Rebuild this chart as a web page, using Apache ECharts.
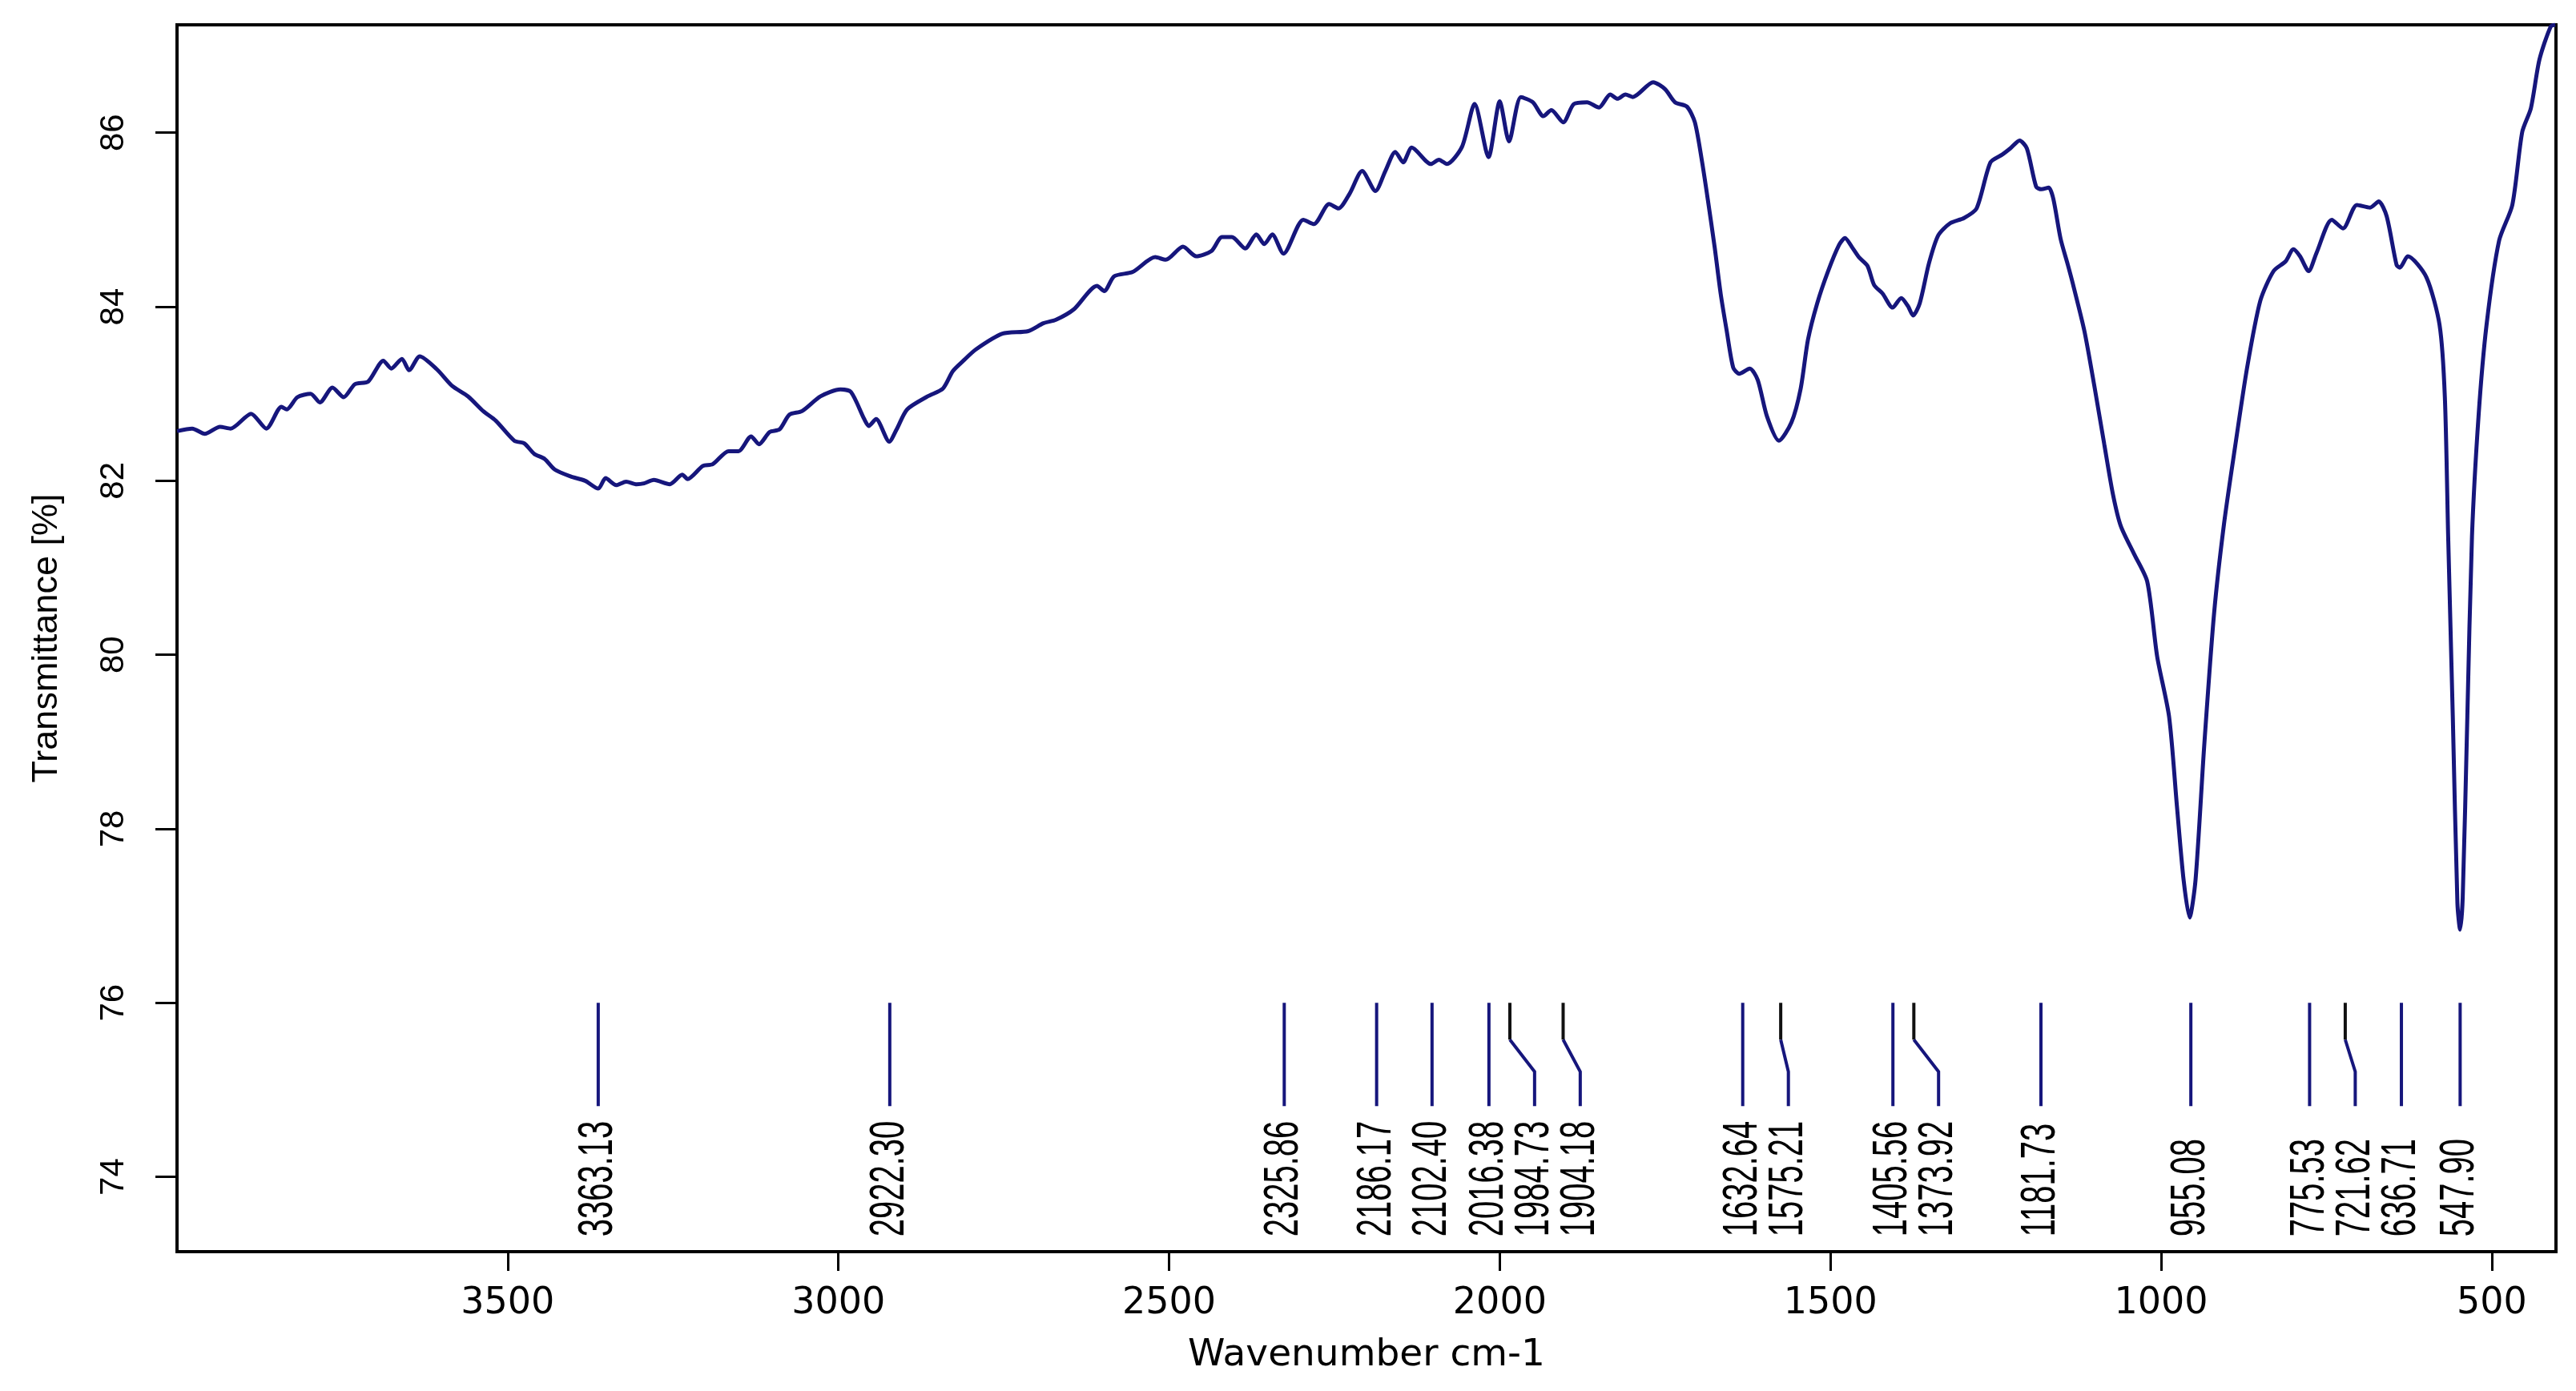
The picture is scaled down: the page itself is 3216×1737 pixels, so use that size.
<!DOCTYPE html>
<html>
<head>
<meta charset="utf-8">
<script src="https://cdn.jsdelivr.net/npm/echarts@6/dist/echarts.min.js"></script>
<style>
html,body{margin:0;padding:0;background:#fff;}
#chart{width:3216px;height:1737px;}
</style>
</head>
<body>
<div id="chart"></div>
<script>
// Wavenumber (cm-1) and transmittance (%)
const wavenumbers = [
4000,3977,3958,3935,3919,3888,3865,3842,3834,3818,3798,3784,3765,3748,3731,3711,3688,3676,3660,3649,3633,3607,3584,3560,3537,3518,3490,3475,3460,3444,3429,3405,3383,3363,3352,3336,3321,3305,3294,3279,3255,3236,3228,3205,3190,3166,3151,3132,3120,3104,3089,3074,3055,3027,2997,2981,2961,2954,2943,2923,2912,2896,2865,2842,2827,2811,2792,
2752,2713,2690,2671,2644,2609,2598,2583,2555,2521,2505,2479,2459,2436,2420,2405,2385,2368,2356,2344,2327,2297,2281,2258,2244,2227,2208,2188,2173,2158,2146,2133,2104,2092,2080,2057,2038,2017,2000,1986,1968,1950,1934,1922,1904,1888,1868,1850,1833,1822,1810,1799,1768,1750,1735,1717,1705,1694,1685,1675,1666,1657,1647,1638,1622,1610,1596,1578,1559,1545,1534,1520,1504,1487,1478,1467,1457,1444,1434,1421,1406,1393,1383,1375,1365,1351,1337,1319,1298,1279,1258,1240,1228,1214,1203,1189,1181,1170,1163,1152,1141,1133,1116,1101,1086,1073,1061,1041,1021,1006,988,976,966,957,948,935,920,905,888,870,850,830,812,800,790,777,765,742,725,704,684,671,659,644,639,627,599,579,571,566,559,552,548,544,537,530,520,508,489,469,454,441,428,411,404
];
const transmittance = [
82.57,82.60,82.54,82.62,82.60,82.77,82.60,82.85,82.82,82.96,83.00,82.90,83.07,82.96,83.11,83.14,83.38,83.29,83.40,83.27,83.43,83.28,83.09,82.97,82.80,82.69,82.46,82.43,82.31,82.25,82.13,82.05,82.00,81.91,82.03,81.95,81.99,81.96,81.97,82.01,81.96,82.07,82.02,82.17,82.19,82.34,82.34,82.51,82.42,82.56,82.59,82.76,82.80,82.97,83.05,83.02,82.71,82.63,82.71,82.45,82.59,82.82,82.97,83.06,83.26,83.38,83.51,
83.69,83.72,83.81,83.85,83.97,84.24,84.18,84.35,84.40,84.57,84.54,84.69,84.58,84.64,84.80,84.80,84.67,84.83,84.72,84.83,84.61,85.00,84.95,85.18,85.13,85.30,85.56,85.33,85.56,85.78,85.66,85.83,85.64,85.69,85.64,85.84,86.33,85.72,86.36,85.90,86.41,86.35,86.19,86.26,86.12,86.33,86.35,86.29,86.44,86.39,86.44,86.41,86.58,86.50,86.35,86.30,86.12,85.66,85.21,84.68,84.15,83.73,83.30,83.23,83.29,83.16,82.74,82.46,82.67,83.06,83.62,84.04,84.40,84.71,84.79,84.68,84.57,84.47,84.25,84.15,83.99,84.10,84.01,83.90,84.04,84.50,84.82,84.96,85.02,85.13,85.66,85.75,85.82,85.91,85.82,85.38,85.35,85.37,85.24,84.78,84.48,84.25,83.72,83.09,82.42,81.85,81.48,81.16,80.84,79.98,79.29,78.25,77.41,76.98,77.41,78.94,80.47,81.50,82.40,83.30,84.07,84.41,84.52,84.66,84.58,84.41,84.62,85.00,84.90,85.17,85.14,85.21,85.04,84.48,84.45,84.58,84.34,83.79,82.96,81.36,79.29,77.14,76.84,77.21,79.29,81.36,82.75,83.79,84.76,85.17,86.01,86.28,86.84,87.22,87.24
];
// Annotated peak positions (cm-1)
const peaks = [3363.13,2922.30,2325.86,2186.17,2102.40,2016.38,1984.73,1904.18,1632.64,1575.21,1405.56,1373.92,1181.73,955.08,775.53,721.62,636.71,547.90];
// Axis tick values
const xTicks = [3500,3000,2500,2000,1500,1000,500];
const yTicks = [74,76,78,80,82,84,86];

const PEAK_TOP = 76;       // level where annotation lines start
const MIN_GAP = 57;        // min pixel spacing between peak labels
const NAVY = '#16167c';

const chart = echarts.init(document.getElementById('chart'), null, {renderer:'canvas'});

function renderPeak(params, api) {
  const idx = params.dataIndex;
  const px = peaks.map(p => api.coord([p, PEAK_TOP])[0]);
  const sx = [];
  for (let i = 0; i < px.length; i++) {
    sx[i] = i === 0 ? px[i] : Math.max(px[i], sx[i - 1] + MIN_GAP);
  }
  const top = api.coord([peaks[idx], PEAK_TOP])[1];
  const x0 = px[idx], x1 = sx[idx];
  const shifted = Math.abs(x1 - x0) > 1;
  const children = [];
  if (shifted) {
    children.push({type:'polyline', shape:{points:[[x0, top],[x0, top+46]]}, style:{stroke:'#111', lineWidth:4, fill:null}});
    children.push({type:'polyline', shape:{points:[[x0, top+46],[x1, top+86],[x1, top+129]]}, style:{stroke:NAVY, lineWidth:4, fill:null}});
  } else {
    children.push({type:'polyline', shape:{points:[[x0, top],[x0, top+129]]}, style:{stroke:NAVY, lineWidth:4, fill:null}});
  }
  children.push({
    type:'text',
    x: x1, y: top + 292,
    rotation: Math.PI / 2,
    scaleX: 1, scaleY: 1.55,
    style:{
      text: peaks[idx].toFixed(2),
      fill:'#000',
      font: '40px "Liberation Sans", Arial, sans-serif',
      textAlign:'left',
      textVerticalAlign:'middle'
    }
  });
  return {type:'group', children};
}

const option = {
  backgroundColor:'#fff',
  animation:false,
  grid:{left:221, right:25, top:31, bottom:174, show:true, borderColor:'#000', borderWidth:4, backgroundColor:'transparent'},
  xAxis:{
    type:'value', min:403, max:4000, inverse:true,
    name:'Wavenumber cm-1', nameLocation:'middle', nameGap:106,
    nameTextStyle:{fontFamily:'DejaVu Sans', fontSize:47, color:'#000'},
    axisLine:{show:true, lineStyle:{color:'#000', width:4}},
    axisTick:{show:true, length:24, lineStyle:{color:'#000', width:3}, customValues:xTicks},
    axisLabel:{fontFamily:'DejaVu Sans', fontSize:46, color:'#000', margin:42, customValues:xTicks, formatter:v => String(v)},
    splitLine:{show:false}
  },
  yAxis:{
    type:'value', min:73.14, max:87.24,
    name:'Transmittance [%]', nameLocation:'middle', nameGap:140, nameRotate:90,
    nameTextStyle:{fontFamily:'Liberation Sans', fontSize:45, color:'#000'},
    axisLine:{show:true, lineStyle:{color:'#000', width:4}},
    axisTick:{show:true, length:27, lineStyle:{color:'#000', width:3}, customValues:yTicks},
    axisLabel:{fontFamily:'Liberation Sans', fontSize:42, color:'#000', rotate:90, margin:58, customValues:yTicks, formatter:v => String(v)},
    splitLine:{show:false}
  },
  series:[
    {
      type:'line',
      data: wavenumbers.map((w, i) => [w, transmittance[i]]),
      showSymbol:false,
      smooth:0.25,
      lineStyle:{color:NAVY, width:5},
      clip:true,
      silent:true
    },
    {
      type:'custom',
      data: peaks.map(p => [p, PEAK_TOP]),
      renderItem: renderPeak,
      silent:true,
      clip:false
    }
  ]
};
chart.setOption(option);
</script>
</body>
</html>
